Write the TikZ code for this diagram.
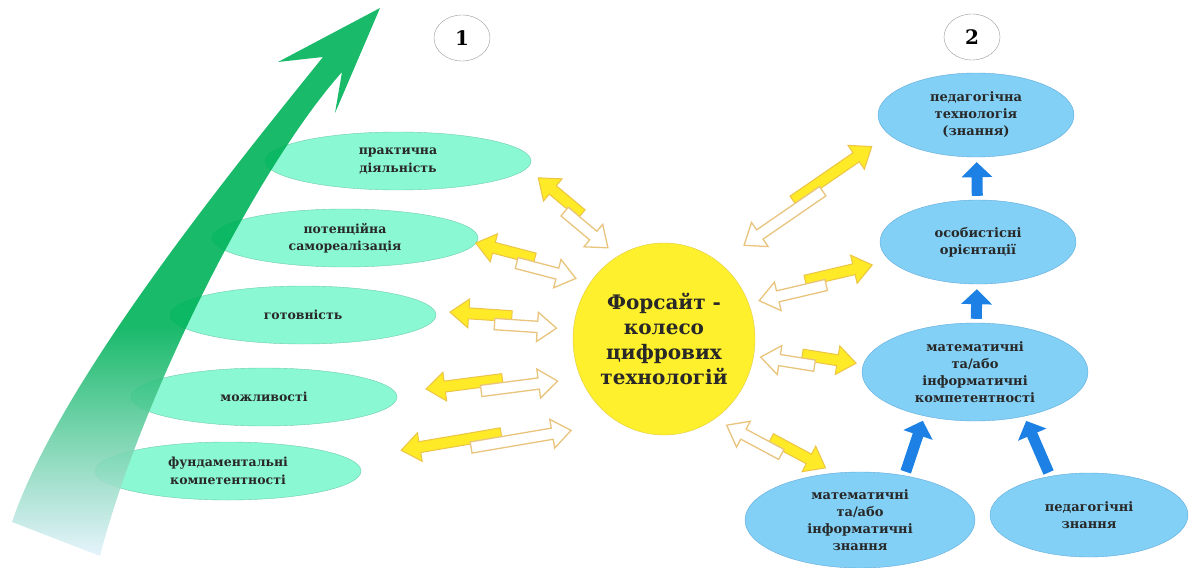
\documentclass[tikz,border=0pt]{standalone}
\usepackage{fontspec}
\setmainfont{DejaVu Serif}
\usepackage{tikz}
\usetikzlibrary{positioning, calc, shapes.geometric, shapes.arrows, arrows.meta}
\definecolor{mint}{RGB}{138,248,210}
\definecolor{mintedge}{RGB}{110,205,165}
\definecolor{skyfill}{RGB}{130,208,246}
\definecolor{skyedge}{RGB}{95,170,220}
\definecolor{arrowblue}{RGB}{28,128,228}
\definecolor{arrowgreen}{RGB}{0,178,90}
\definecolor{palefade}{RGB}{228,242,252}
\definecolor{hubyellow}{RGB}{255,240,45}
\definecolor{hubedge}{RGB}{225,200,70}
\definecolor{twyellow}{RGB}{255,234,40}
\definecolor{twedge}{RGB}{236,196,70}
\definecolor{openedge}{RGB}{232,196,125}
\definecolor{textdark}{RGB}{40,40,40}
\pgfdeclareverticalshading{greenfade}{100bp}{color(0bp)=(palefade); color(25bp)=(palefade); color(46bp)=(arrowgreen); color(100bp)=(arrowgreen)}
\tikzset{
    greenell/.style={
        ellipse, draw=mintedge, fill=mint,
        minimum width = 266, minimum height = 58,
        inner sep = 0, align = center, text = textdark,
        font = \fontsize{12.5}{17.5}\selectfont\bfseries
    },
    blueell/.style={
        ellipse, draw=skyedge, fill=skyfill,
        inner sep = 0, align = center, text = textdark,
        font = \fontsize{13}{17}\selectfont\bfseries
    },
    hub/.style={
        ellipse, draw=hubedge, fill=hubyellow,
        minimum width = 182, minimum height = 192,
        inner sep = 0, align = center, text = textdark,
        font = \fontsize{20}{25}\selectfont\bfseries
    },
    numcirc/.style={
        ellipse, draw=gray!80, thin, minimum width = 56, minimum height = 46,
        inner sep = 0, font = \fontsize{20}{22}\selectfont\bfseries
    },
    fillarrow/.style={
        single arrow, draw=twedge, fill=twyellow, line width = 1,
        inner sep = 0, inner ysep = 5, single arrow head extend = 9,
        single arrow tip angle = 75
    },
    openarrow/.style={
        single arrow, draw=openedge, fill=white, line width = 1.3,
        inner sep = 0, inner ysep = 5, single arrow head extend = 9,
        single arrow tip angle = 75
    },
    blueup/.style={
        draw=arrowblue, line width = 11,
        -{Triangle[width=30pt, length=15pt]},
        shorten <= 4pt, shorten >= 5pt
    }
}
% two-way arrow round the hub: name, inner end, outer end, side of the filled one
\newcommand{\twoway}[4]{%
    \coordinate (#1-in) at ($(hub.center)+(#2)$);
    \coordinate (#1-out) at ($(hub.center)+(#3)$);
    \path let \p1 = ($(#1-out)-(#1-in)$), \n1 = {atan2(\y1,\x1)}, \n2 = {veclen(\x1,\y1)} in
        node[fillarrow, minimum height = 0.62*\n2, rotate = \n1] (#1-fill)
            at ($(#1-in)!0.69!(#1-out)!4.5pt!#4:(#1-out)$) {}
        node[openarrow, minimum height = 0.62*\n2, rotate = \n1+180] (#1-open)
            at ($(#1-in)!0.31!(#1-out)!-4.5pt!#4:(#1-out)$) {};
}

\begin{document}
\begin{tikzpicture}[x=1pt, y=-1pt]

    \useasboundingbox (0,0) rectangle (1190,567);

    % Left ellipses
    \node[greenell] (prak) at (398,161) {практична\\діяльність};
    \node[greenell] (poten) at (345,238) {потенційна\\самореалізація};
    \node[greenell] (gotov) at (303,315) {готовність};
    \node[greenell] (mozhl) at (264,397) {можливості};
    \node[greenell] (fund) at (228,471) {фундаментальні\\компетентності};

    % Growth arrow
    \shade[shading=greenfade, opacity=0.9]
        (380,8) -- (278,62) -- (323,57)
        .. controls (240,160) and (60,380) .. (12,522)
        -- (100,556)
        .. controls (140,400) and (255,170) .. (342,72)
        -- (335,113) -- cycle;

    % Hub
    \node[hub] (hub) at (664,339) {Форсайт -\\колесо\\цифрових\\технологій};

    % Numbers
    \node[numcirc] (one) at (462,38) {1};
    \node[numcirc] (two) at (972,37) {2};

    % Right ellipses
    \node[blueell, minimum width = 196, minimum height = 84] (tech) at (976,115) {педагогічна\\технологія\\(знання)};
    \node[blueell, minimum width = 196, minimum height = 84] (osob) at (978,242) {особистісні\\орієнтації};
    \node[blueell, minimum width = 226, minimum height = 98] (komp) at (975,372) {математичні\\та/або\\інформатичні\\компетентності};
    \node[blueell, minimum width = 230, minimum height = 96] (mzn) at (860,520) {математичні\\та/або\\інформатичні\\знання};
    \node[blueell, minimum width = 198, minimum height = 84] (pzn) at (1089,515) {педагогічні\\знання};

    % Blue arrows
    \draw[blueup] (osob) -- (tech);
    \draw[blueup] (komp) -- (osob);
    \draw[blueup] (mzn.45) -- (komp.221);
    \draw[blueup] (pzn.135) -- (komp.-42);

    % Two-way arrows, left
    \twoway{ta}{-120:112}{-129:200}{-90}
    \twoway{tb}{-144:112}{-154:207}{-90}
    \twoway{tc}{-172:112}{-174:212}{-90}
    \twoway{td}{161:117}{167:240}{-90}
    \twoway{te}{138:131}{156:283}{-90}

    % Two-way arrows, right
    \twoway{tf}{-51:128}{-42:279}{90}
    \twoway{tg}{-24:107}{-18.5:217}{90}
    \twoway{th}{8:102}{8.5:190}{90}
    \twoway{ti}{51:108}{40:204}{90}

\end{tikzpicture}
\end{document}
